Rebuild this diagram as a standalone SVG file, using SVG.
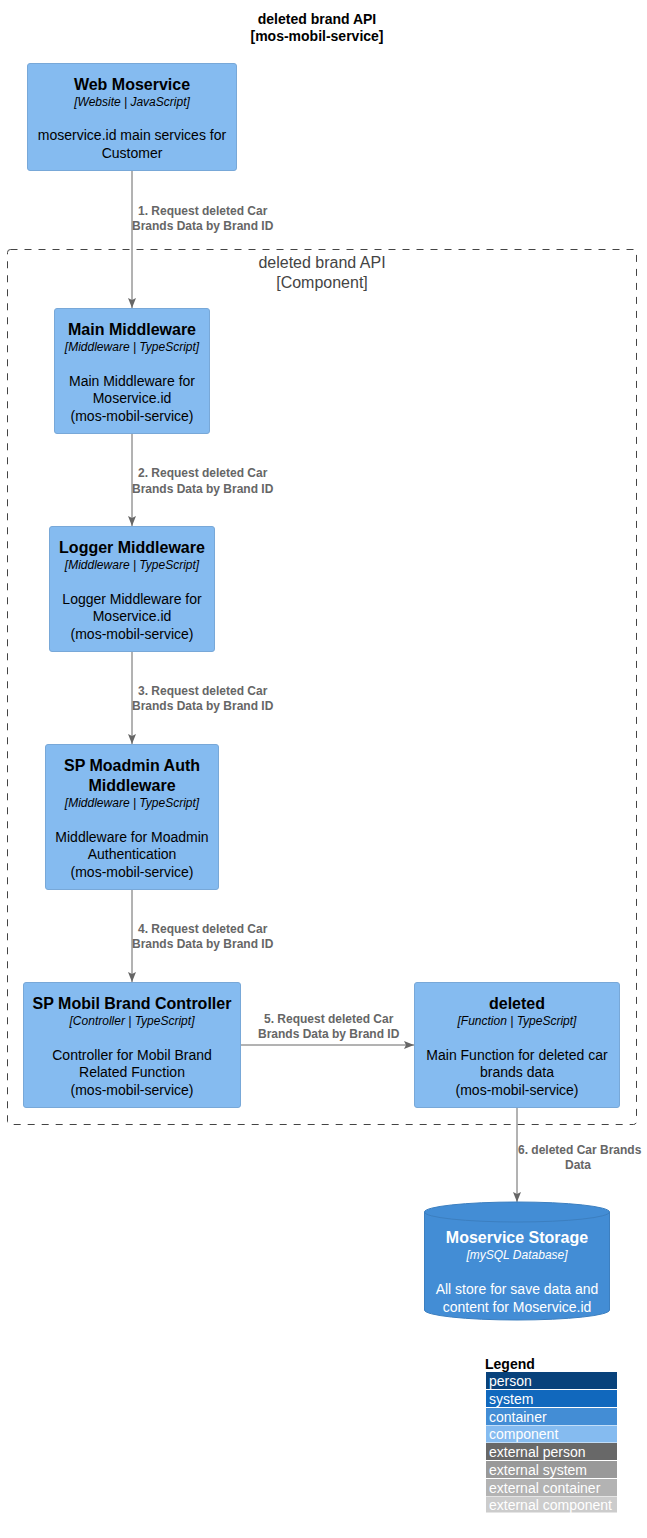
<svg xmlns="http://www.w3.org/2000/svg" width="647" height="1538" viewBox="0 0 647 1538">
<style>
text{font-family:"Liberation Sans",Arial,sans-serif}
.box{fill:#85BBF0;stroke:#78A8D8;stroke-width:1}
.t{font-size:16px;font-weight:bold;fill:#000;text-anchor:middle}
.tech{font-size:12px;font-style:italic;fill:#000;text-anchor:middle}
.d{font-size:14px;fill:#000;text-anchor:middle}
.dbt{font-size:16px;font-weight:bold;fill:#fff;text-anchor:middle}
.dbtech{font-size:12px;font-style:italic;fill:#fff;text-anchor:middle}
.dbd{font-size:14px;fill:#fff;text-anchor:middle}
.lbl{font-size:12px;font-weight:bold;fill:#666}
.conn{stroke:#666;stroke-width:1;fill:none}
.lg{font-size:14px;fill:#fff}
</style>
<defs>
<marker id="arr" viewBox="0 0 10 8" refX="10" refY="4" markerWidth="10" markerHeight="8" markerUnits="userSpaceOnUse" orient="auto">
<path d="M0,0 L10,4 L0,8 L2,4 Z" fill="#666"/>
</marker>
</defs>
<rect width="647" height="1538" fill="#fff"/>
<g id="title">
<text x="317" y="24" style="font-size:14px;font-weight:bold;text-anchor:middle;fill:#000">deleted brand API</text>
<text x="317" y="41" style="font-size:14px;font-weight:bold;text-anchor:middle;fill:#000">[mos-mobil-service]</text>
</g>
<g id="boundary">
<rect x="7.5" y="249.5" width="629" height="875" rx="3" fill="none" stroke="#444" stroke-width="1" stroke-dasharray="7,7"/>
<text x="322" y="268" style="font-size:16px;fill:#444;text-anchor:middle">deleted brand API</text>
<text x="322" y="288" style="font-size:16px;fill:#444;text-anchor:middle">[Component]</text>
</g>
<g id="connectors">
<line class="conn" x1="132" y1="171" x2="132" y2="308" marker-end="url(#arr)"/>
<text class="lbl" x="138" y="215">1. Request deleted Car</text>
<text class="lbl" x="132" y="230">Brands Data by Brand ID</text>
<line class="conn" x1="132" y1="433" x2="132" y2="526" marker-end="url(#arr)"/>
<text class="lbl" x="138" y="477">2. Request deleted Car</text>
<text class="lbl" x="132" y="493">Brands Data by Brand ID</text>
<line class="conn" x1="132" y1="651" x2="132" y2="744" marker-end="url(#arr)"/>
<text class="lbl" x="138" y="695">3. Request deleted Car</text>
<text class="lbl" x="132" y="710">Brands Data by Brand ID</text>
<line class="conn" x1="132" y1="889" x2="132" y2="982" marker-end="url(#arr)"/>
<text class="lbl" x="138" y="933">4. Request deleted Car</text>
<text class="lbl" x="132" y="948">Brands Data by Brand ID</text>
<line class="conn" x1="241" y1="1045" x2="414" y2="1045" marker-end="url(#arr)"/>
<text class="lbl" x="264" y="1023">5. Request deleted Car</text>
<text class="lbl" x="258" y="1038">Brands Data by Brand ID</text>
<line class="conn" x1="517" y1="1107" x2="517" y2="1202" marker-end="url(#arr)"/>
<text class="lbl" x="518" y="1154">6. deleted Car Brands</text>
<text class="lbl" x="578" y="1169" text-anchor="middle">Data</text>
</g>
<g id="web-moservice">
<rect class="box" x="27.5" y="63.5" width="209" height="107" rx="2.5"/>
<text class="t" x="132" y="90">Web Moservice</text>
<text class="tech" x="132" y="106">[Website | JavaScript]</text>
<text class="d" x="132" y="140">moservice.id main services for</text>
<text class="d" x="132" y="158">Customer</text>
</g>
<g id="main-middleware">
<rect class="box" x="54.5" y="308.5" width="155" height="125" rx="2.5"/>
<text class="t" x="132" y="335">Main Middleware</text>
<text class="tech" x="132" y="351">[Middleware | TypeScript]</text>
<text class="d" x="132" y="386">Main Middleware for</text>
<text class="d" x="132" y="403">Moservice.id</text>
<text class="d" x="132" y="421">(mos-mobil-service)</text>
</g>
<g id="logger-middleware">
<rect class="box" x="49.5" y="526.5" width="165" height="125" rx="2.5"/>
<text class="t" x="132" y="553">Logger Middleware</text>
<text class="tech" x="132" y="569">[Middleware | TypeScript]</text>
<text class="d" x="132" y="604">Logger Middleware for</text>
<text class="d" x="132" y="621">Moservice.id</text>
<text class="d" x="132" y="639">(mos-mobil-service)</text>
</g>
<g id="sp-moadmin-auth-middleware">
<rect class="box" x="45.5" y="744.5" width="173" height="145" rx="2.5"/>
<text class="t" x="132" y="771">SP Moadmin Auth</text>
<text class="t" x="132" y="791">Middleware</text>
<text class="tech" x="132" y="807">[Middleware | TypeScript]</text>
<text class="d" x="132" y="842">Middleware for Moadmin</text>
<text class="d" x="132" y="859">Authentication</text>
<text class="d" x="132" y="877">(mos-mobil-service)</text>
</g>
<g id="sp-mobil-brand-controller">
<rect class="box" x="23.5" y="982.5" width="217" height="125" rx="2.5"/>
<text class="t" x="132" y="1009">SP Mobil Brand Controller</text>
<text class="tech" x="132" y="1025">[Controller | TypeScript]</text>
<text class="d" x="132" y="1060">Controller for Mobil Brand</text>
<text class="d" x="132" y="1077">Related Function</text>
<text class="d" x="132" y="1095">(mos-mobil-service)</text>
</g>
<g id="deleted">
<rect class="box" x="414.5" y="982.5" width="205" height="125" rx="2.5"/>
<text class="t" x="517" y="1009">deleted</text>
<text class="tech" x="517" y="1025">[Function | TypeScript]</text>
<text class="d" x="517" y="1060">Main Function for deleted car</text>
<text class="d" x="517" y="1077">brands data</text>
<text class="d" x="517" y="1095">(mos-mobil-service)</text>
</g>
<g id="moservice-storage">
<path d="M424.5,1212 A92.5,10 0 0 1 609.5,1212 L609.5,1310 A92.5,10 0 0 1 424.5,1310 Z" fill="#438DD5" stroke="#3C7FC0" stroke-width="1"/>
<path d="M424.5,1212 A92.5,10 0 0 0 609.5,1212" fill="none" stroke="#3C7FC0" stroke-width="1"/>
<text class="dbt" x="517" y="1243">Moservice Storage</text>
<text class="dbtech" x="517" y="1259">[mySQL Database]</text>
<text class="dbd" x="517" y="1294">All store for save data and</text>
<text class="dbd" x="517" y="1312">content for Moservice.id</text>
</g>
<g id="legend">
<text x="485" y="1369" style="font-size:14px;font-weight:bold;fill:#000">Legend</text>
<rect x="486" y="1372" width="131" height="17" fill="#08427B"/>
<text class="lg" x="489" y="1386">person</text>
<rect x="486" y="1390" width="131" height="17" fill="#1168BD"/>
<text class="lg" x="489" y="1404">system</text>
<rect x="486" y="1408" width="131" height="17" fill="#438DD5"/>
<text class="lg" x="489" y="1422">container</text>
<rect x="486" y="1425.5" width="131" height="17" fill="#85BBF0"/>
<text class="lg" x="489" y="1439">component</text>
<rect x="486" y="1443" width="131" height="17" fill="#686868"/>
<text class="lg" x="489" y="1457">external person</text>
<rect x="486" y="1461" width="131" height="17" fill="#999999"/>
<text class="lg" x="489" y="1475">external system</text>
<rect x="486" y="1479" width="131" height="17" fill="#B3B3B3"/>
<text class="lg" x="489" y="1493">external container</text>
<rect x="486" y="1496.5" width="131" height="16" fill="#CCCCCC"/>
<text class="lg" x="489" y="1510">external component</text>
</g>
</svg>
